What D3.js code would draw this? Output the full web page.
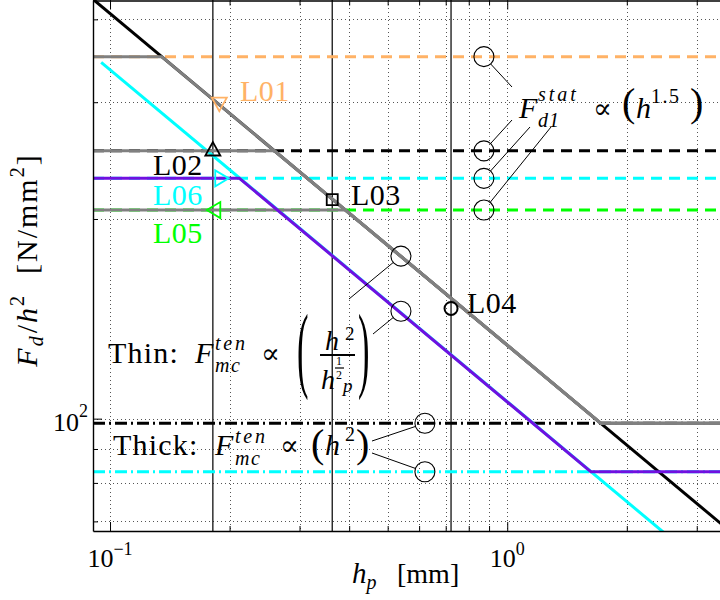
<!DOCTYPE html>
<html>
<head>
<meta charset="utf-8">
<script src="https://cdn.jsdelivr.net/npm/d3@7"></script>
<style>
  html, body { margin: 0; padding: 0; background: #fff; }
  svg { display: block; }
  text { font-family: "Liberation Serif", "DejaVu Serif", serif; fill: #000; }
</style>
</head>
<body>
<svg id="chart" width="720" height="600"></svg>
<script>
// ---- axis extents (h_p in mm, F_d/h^2 in N/mm^2) ----
const xExtent = [0.0906, 3.6];
const yExtent = [67.7, 427.8];
const xGridValues = [0.1, 0.2, 0.3, 0.4, 0.5, 0.6, 0.7, 0.8, 0.9, 1, 2, 3];
const yGridValues = [70, 80, 90, 100, 200, 300, 400];
const xTickLabels = [{ v: 0.1, base: "10", exp: "−1" }, { v: 1, base: "10", exp: "0" }];
const yTickLabels = [{ v: 100, base: "10", exp: "2" }];

// ---- static limits F_d1^stat (dashed horizontals) ----
const statLevels = [351.4, 253.4, 230.3, 206.3];          // L01, L02, L06, L05
const statColors = ["#FFB266", "#000000", "#00FFFF", "#00FF00"];

// ---- thick-plate tension limits (dash-dot horizontals) ----
const thickLevels = [98.4, 83.15];
const thickColors = ["#000000", "#00FFFF"];

// ---- thin-plate tension limits (slope -1/2 in log-log) ----
const thinBlackHp = [0.0906, 3.6];
const thinBlackVal = [428.9, 68.0];
const thinCyanHp = [0.095, 3.0];
const thinCyanVal = [344.6, 61.2];

// ---- governing curves ----
const govL01Hp = [0.0906, 0.1349, 1.721, 3.6];
const govL01Val = [351.4, 351.4, 98.4, 98.4];
const govL02Hp = [0.0906, 0.2596, 1.721, 3.6];
const govL02Val = [253.4, 253.4, 98.4, 98.4];
const govL05Hp = [0.0906, 0.3916, 1.721, 3.6];
const govL05Val = [206.3, 206.3, 98.4, 98.4];
const govL06Hp = [0.0906, 0.2118, 1.625, 3.6];
const govL06Val = [230.3, 230.3, 83.15, 83.15];

// ---- plate thicknesses (vertical reference lines) ----
const plateHp = [0.1815, 0.3626, 0.722];

// ---- case markers ----
const caseNames = ["L01", "L02", "L06", "L05", "L03", "L04"];
const caseHp = [0.1884, 0.1815, 0.1911, 0.1825, 0.3626, 0.722];
const caseVal = [298.0, 255.0, 230.3, 206.3, 213.9, 146.6];
const caseShapes = ["down", "up", "right", "left", "square", "circle"];
const caseColors = ["#FFB266", "#000000", "#00FFFF", "#00FF00", "#000000", "#000000"];

// ---- annotation circles ----
const statCircleHp = 0.8736;
const thinCircleHp = 0.540;
const thinCircleVal = [175.8, 145.2];
const thickCircleHp = 0.6205;

const W = 720, H = 600;
const plot = { left: 93, top: 0.5, bottom: 531 };

const svg = d3.select("#chart");
const x = d3.scaleLog().domain(xExtent).range([plot.left, 728.2]);
const y = d3.scaleLog().domain(yExtent).range([plot.bottom, 0]);

svg.append("defs").append("clipPath").attr("id", "plotClip")
  .append("rect").attr("x", plot.left).attr("y", 0)
  .attr("width", W - plot.left + 20).attr("height", plot.bottom);

// grid
const grid = svg.append("g").attr("clip-path", "url(#plotClip)")
  .attr("stroke", "#555").attr("stroke-width", 1).attr("stroke-dasharray", "1,3");
grid.selectAll("line.gx").data(xGridValues).join("line").attr("class", "gx")
  .attr("x1", d => Math.round(x(d)) + 0.5).attr("x2", d => Math.round(x(d)) + 0.5)
  .attr("y1", 0).attr("y2", plot.bottom);
grid.selectAll("line.gy").data(yGridValues).join("line").attr("class", "gy")
  .attr("y1", d => Math.round(y(d)) + 0.5).attr("y2", d => Math.round(y(d)) + 0.5)
  .attr("x1", plot.left).attr("x2", W + 10);

const body = svg.append("g").attr("clip-path", "url(#plotClip)");
const line = d3.line().x(d => x(d[0])).y(d => y(d[1]));
const zip = (a, b) => a.map((v, i) => [v, b[i]]);
const xr = x.domain();

// plate thickness verticals
body.selectAll("line.plate").data(plateHp).join("line").attr("class", "plate")
  .attr("x1", d => x(d)).attr("x2", d => x(d)).attr("y1", 0).attr("y2", plot.bottom)
  .attr("stroke", "#111").attr("stroke-width", 1.3);

// static dashed levels
body.selectAll("path.stat").data(statLevels).join("path").attr("class", "stat")
  .attr("d", v => line([[xr[0], v], [xr[1], v]]))
  .attr("fill", "none").attr("stroke", (d, i) => statColors[i])
  .attr("stroke-width", 3).attr("stroke-dasharray", "11,7");

// thick dash-dot levels
body.selectAll("path.thick").data(thickLevels).join("path").attr("class", "thick")
  .attr("d", v => line([[xr[0], v], [xr[1], v]]))
  .attr("fill", "none").attr("stroke", (d, i) => thickColors[i])
  .attr("stroke-width", 3).attr("stroke-dasharray", "12,4,2,4");

// thin-plate lines
body.append("path").attr("d", line(zip(thinBlackHp, thinBlackVal)))
  .attr("fill", "none").attr("stroke", "#000").attr("stroke-width", 3);
body.append("path").attr("d", line(zip(thinCyanHp, thinCyanVal)))
  .attr("fill", "none").attr("stroke", "#00FFFF").attr("stroke-width", 3);

// governing curves
[[govL05Hp, govL05Val], [govL02Hp, govL02Val], [govL01Hp, govL01Val]].forEach(([h, v]) => {
  body.append("path").attr("d", line(zip(h, v)))
    .attr("fill", "none").attr("stroke", "#808080").attr("stroke-width", 3)
    .attr("stroke-linejoin", "round");
});
body.append("path").attr("d", line(zip(govL06Hp, govL06Val)))
  .attr("fill", "none").attr("stroke", "#7010E0").attr("stroke-width", 3)
  .attr("stroke-linejoin", "round");

// case markers
const markerPath = {
  down: "M-7.5,-6.5L7.5,-6.5L0,7Z",
  up: "M-7.5,6.5L7.5,6.5L0,-7Z",
  right: "M-6.5,-8L-6.5,8L7,0Z",
  left: "M6.5,-8L6.5,8L-7,0Z",
  square: "M-5.5,-5.5H5.5V5.5H-5.5Z"
};
caseShapes.forEach((s, i) => {
  const px = x(caseHp[i]), py = y(caseVal[i]);
  if (s === "circle") {
    svg.append("circle").attr("cx", px).attr("cy", py).attr("r", 6.5)
      .attr("fill", "none").attr("stroke", caseColors[i]).attr("stroke-width", 2);
  } else {
    svg.append("path").attr("d", markerPath[s]).attr("transform", `translate(${px},${py})`)
      .attr("fill", "none").attr("stroke", caseColors[i]).attr("stroke-width", 1.8)
      .attr("stroke-linejoin", "miter");
  }
});

// case labels
const caseLabelPos = [[240, 101], [153, 175], [153, 205], [153, 243], [351, 205], [467, 313]];
caseNames.forEach((n, i) => {
  svg.append("text").attr("x", caseLabelPos[i][0]).attr("y", caseLabelPos[i][1])
    .attr("font-size", 30).attr("letter-spacing", 0.5)
    .style("fill", caseColors[i]).text(n);
});

// axes (ticks inside the box)
const majorX = new Set([0.1, 1]);
const gx = svg.append("g").attr("transform", `translate(0,${plot.bottom})`)
  .call(d3.axisBottom(x).tickValues(xGridValues).tickSize(-5).tickSizeOuter(0).tickFormat(""));
gx.selectAll(".tick line").attr("y2", d => majorX.has(d) ? -9 : -5);
const gt = svg.append("g").attr("transform", `translate(0,${plot.top})`)
  .call(d3.axisTop(x).tickValues(xGridValues).tickSize(-5).tickSizeOuter(0).tickFormat(""));
gt.selectAll(".tick line").attr("y2", d => majorX.has(d) ? 9 : 5);
const gy = svg.append("g").attr("transform", `translate(${plot.left},0)`)
  .call(d3.axisLeft(y).tickValues(yGridValues).tickSize(-5).tickSizeOuter(0).tickFormat(""));
gy.selectAll(".tick line").attr("x2", d => d === 100 ? 9 : 5);
svg.selectAll(".domain").attr("stroke", "#000").attr("stroke-width", 1.4);
svg.selectAll(".tick line").attr("stroke", "#000").attr("stroke-width", 1);

// tick labels: powers of ten
xTickLabels.forEach(t => {
  const tx = svg.append("text").attr("x", x(t.v)).attr("y", 567)
    .attr("text-anchor", "middle").attr("font-size", 26);
  tx.append("tspan").text(t.base);
  tx.append("tspan").attr("font-size", 18).attr("dy", -12).text(t.exp);
});
yTickLabels.forEach(t => {
  const ty = svg.append("text").attr("x", 88).attr("y", y(t.v) + 12)
    .attr("text-anchor", "end").attr("font-size", 26);
  ty.append("tspan").text(t.base);
  ty.append("tspan").attr("font-size", 18).attr("dy", -14).text(t.exp);
});

// axis titles
const xt = svg.append("text").attr("x", 352).attr("y", 583).attr("font-size", 29);
xt.append("tspan").attr("font-style", "italic").text("h");
xt.append("tspan").attr("font-style", "italic").attr("font-size", 20).attr("dy", 6).text("p");
xt.append("tspan").attr("dy", -6).attr("x", 397).attr("font-size", 28).text("[mm]");

const yt = svg.append("text").attr("transform", "translate(37,260) rotate(-90)")
  .attr("text-anchor", "middle").attr("font-size", 30).attr("letter-spacing", 2);
yt.append("tspan").attr("font-style", "italic").text("F");
yt.append("tspan").attr("font-style", "italic").attr("font-size", 20).attr("dy", 6).text("d");
yt.append("tspan").attr("dy", -6).attr("dx", 1).text("/");
yt.append("tspan").attr("font-style", "italic").text("h");
yt.append("tspan").attr("font-size", 20).attr("dy", -13).text("2");
yt.append("tspan").attr("dy", 13).attr("dx", 20).text("[N/mm");
yt.append("tspan").attr("font-size", 20).attr("dy", -13).text("2");
yt.append("tspan").attr("dy", 13).text("]");

// ---- formula annotations ----
const ann = svg.append("g");
// one text element per formula; every part placed with its own x/y
function formula(parts) {
  const t = ann.append("text");
  parts.forEach(p => {
    const s = t.append("tspan").attr("x", p.x).attr("y", p.y)
      .attr("font-size", p.size).attr("font-style", p.it ? "italic" : "normal")
      .text(p.t);
    if (p.ls) s.attr("letter-spacing", p.ls);
    if (p.font) s.style("font-family", p.font);
  });
  return t;
}
// vertically stretched delimiter spanning [top, bottom]
function delim(px, top, bottom, ch) {
  const fs = 30, k = (bottom - top) / (0.88 * fs);
  const mid = (top + bottom) / 2;
  ann.append("text").attr("font-size", fs)
    .attr("transform", `translate(${px},${mid + 0.25 * fs * k}) scale(1.15,${k})`).text(ch);
}
function pointer(cx, cy, tx, ty, r) {
  const dx = tx - cx, dy = ty - cy, L = Math.hypot(dx, dy);
  ann.append("line").attr("x1", cx + r * dx / L).attr("y1", cy + r * dy / L)
    .attr("x2", tx).attr("y2", ty).attr("stroke", "#000").attr("stroke-width", 1);
}
function ring(cx, cy) {
  ann.append("circle").attr("cx", cx).attr("cy", cy).attr("r", 10)
    .attr("fill", "none").attr("stroke", "#000").attr("stroke-width", 1.1);
}
const propFont = "DejaVu Serif";

// F_d1^stat ∝ (h^1.5)
formula([
  { x: 519, y: 118, size: 30, it: true, t: "F" },
  { x: 538, y: 101, size: 20, it: true, t: "stat", ls: 3 },
  { x: 538, y: 127, size: 20, it: true, t: "d1", ls: 1 },
  { x: 593, y: 118, size: 28, t: "∝", font: propFont },
  { x: 622, y: 116, size: 40, t: "(" },
  { x: 636, y: 118, size: 30, it: true, t: "h" },
  { x: 651, y: 103, size: 20, t: "1.5", ls: 1.5 },
  { x: 690, y: 116, size: 40, t: ")" }
]);
const statTargets = [[512, 87], [512, 120], [530, 127], [551, 127]];
statLevels.forEach((v, i) => {
  const cx = x(statCircleHp), cy = y(v);
  ring(cx, cy);
  pointer(cx, cy, statTargets[i][0], statTargets[i][1], 10);
});

// Thin: F_mc^ten ∝ (h^2 / h_p^{1/2})
formula([
  { x: 108, y: 363, size: 30, t: "Thin:", ls: 1.2 },
  { x: 195, y: 363, size: 30, it: true, t: "F" },
  { x: 215, y: 350, size: 20, it: true, t: "ten", ls: 2.8 },
  { x: 215, y: 372, size: 20, it: true, t: "mc", ls: 1.5 },
  { x: 261, y: 363, size: 28, t: "∝", font: propFont },
  { x: 325, y: 350, size: 28, it: true, t: "h" },
  { x: 345, y: 340, size: 19, t: "2" },
  { x: 321, y: 389, size: 28, it: true, t: "h" },
  { x: 343, y: 392, size: 19, it: true, t: "p" },
  { x: 336, y: 365, size: 12, t: "1" },
  { x: 336, y: 379, size: 12, t: "2" }
]);
ann.append("line").attr("x1", 320).attr("x2", 355).attr("y1", 355).attr("y2", 355)
  .attr("stroke", "#000").attr("stroke-width", 2);
ann.append("line").attr("x1", 335).attr("x2", 344).attr("y1", 368).attr("y2", 368)
  .attr("stroke", "#000").attr("stroke-width", 1.2);
delim(297, 314, 398, "(");
delim(358, 314, 398, ")");
const thinTargets = [[349, 299], [373, 334]];
thinCircleVal.forEach((v, i) => {
  const cx = x(thinCircleHp), cy = y(v);
  ring(cx, cy);
  pointer(cx, cy, thinTargets[i][0], thinTargets[i][1], 10);
});

// Thick: F_mc^ten ∝ (h^2)
formula([
  { x: 113, y: 455, size: 30, t: "Thick:", ls: 1.2 },
  { x: 215, y: 455, size: 30, it: true, t: "F" },
  { x: 235, y: 443, size: 20, it: true, t: "ten", ls: 2.8 },
  { x: 235, y: 465, size: 20, it: true, t: "mc", ls: 1.5 },
  { x: 280, y: 455, size: 28, t: "∝", font: propFont },
  { x: 311, y: 457, size: 40, t: "(" },
  { x: 325, y: 455, size: 30, it: true, t: "h" },
  { x: 345, y: 441, size: 20, t: "2" },
  { x: 356, y: 457, size: 40, t: ")" }
]);
const thickTargets = [[372, 441], [372, 453]];
thickLevels.forEach((v, i) => {
  const cx = x(thickCircleHp), cy = y(v);
  ring(cx, cy);
  pointer(cx, cy, thickTargets[i][0], thickTargets[i][1], 10);
});
</script>
</body>
</html>
